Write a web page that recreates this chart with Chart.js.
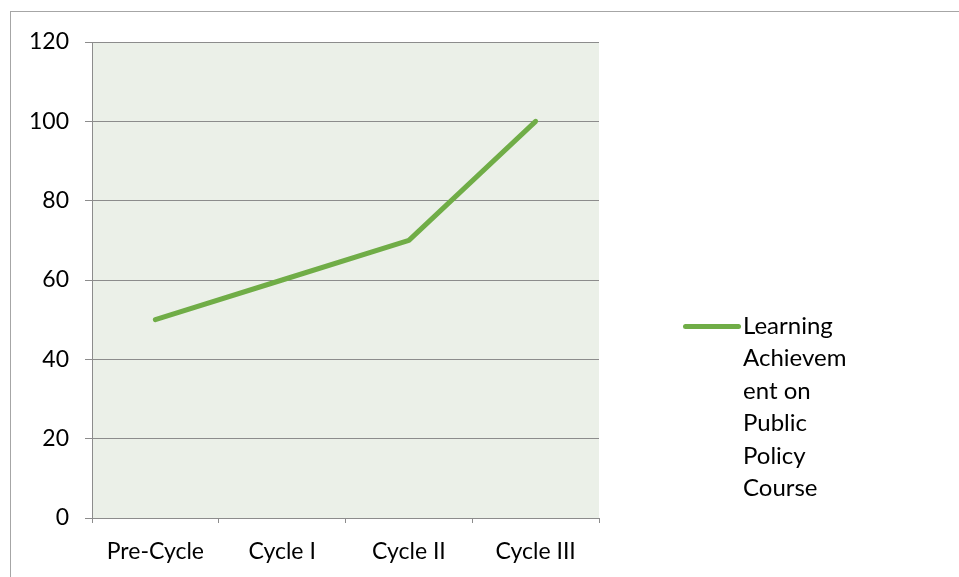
<!DOCTYPE html>
<html>
<head>
<meta charset="utf-8">
<script src="https://cdn.jsdelivr.net/npm/chart.js@4"></script>
<style>
  html, body { margin: 0; padding: 0; background: #fff; }
  #wrap { position: relative; width: 959px; height: 577px; overflow: hidden; }
  #frame { position: absolute; left: 10px; top: 11px; width: 960px; height: 600px;
           border: 1px solid #a6a6a6; box-sizing: border-box; }
  #legend { position: absolute; left: 683px; top: 309px; font-family: Lato, "Open Sans", sans-serif;
            font-size: 24px; line-height: 32.4px; color: #000; }
  #legend .swatch { position: absolute; left: 0; top: 15px; width: 58px; height: 5px;
                    background: #70ad47; border-radius: 3px; }
  #legend .txt { margin-left: 60px; width: 130px; }
</style>
</head>
<body>
<div id="wrap">
  <canvas id="c" width="959" height="577"></canvas>
  <div id="frame"></div>
  <div id="legend"><div class="swatch"></div><div class="txt">Learning<br>Achievem<br>ent on<br>Public<br>Policy<br>Course</div></div>
</div>
<script>
// chart data
const categories = ["Pre-Cycle", "Cycle I", "Cycle II", "Cycle III"];
const achievement = [50, 60, 70, 100];
const seriesName = "Learning Achievement on Public Policy Course";

const plotBg = {
  id: "plotBg",
  beforeDraw(chart) {
    const { ctx, chartArea: a } = chart;
    ctx.save();
    ctx.fillStyle = "#ebf0e8";
    ctx.fillRect(a.left, a.top, a.right - a.left, a.bottom - a.top);
    ctx.restore();
  },
};

Chart.defaults.font.family = "Lato, 'Open Sans', sans-serif";
Chart.defaults.color = "#000";

new Chart(document.getElementById("c"), {
  type: "line",
  data: {
    labels: categories,
    datasets: [{
      label: seriesName,
      data: achievement,
      borderColor: "#70ad47",
      borderWidth: 5,
      borderCapStyle: "round",
      borderJoinStyle: "round",
      pointRadius: 0,
      tension: 0,
    }],
  },
  options: {
    responsive: false,
    animation: false,
    layout: { padding: { left: 10, top: 42, right: 360, bottom: 0 } },
    plugins: { legend: { display: false }, tooltip: { enabled: false } },
    scales: {
      x: {
        offset: true,
        grid: { offset: true, drawOnChartArea: false, drawTicks: true, tickLength: 5, color: "#8c8c8c" },
        border: { color: "#8c8c8c", width: 1 },
        ticks: { font: { size: 23 }, padding: 15, maxRotation: 0 },
        afterFit: (s) => { s.height = 59; },
      },
      y: {
        min: 0, max: 120,
        ticks: { stepSize: 20, font: { size: 23 }, padding: 16 },
        grid: { color: "#8c8c8c", tickLength: 7 },
        border: { color: "#8c8c8c", width: 1 },
        afterFit: (s) => { s.width = 82; },
      },
    },
  },
  plugins: [plotBg],
});
</script>
</body>
</html>
